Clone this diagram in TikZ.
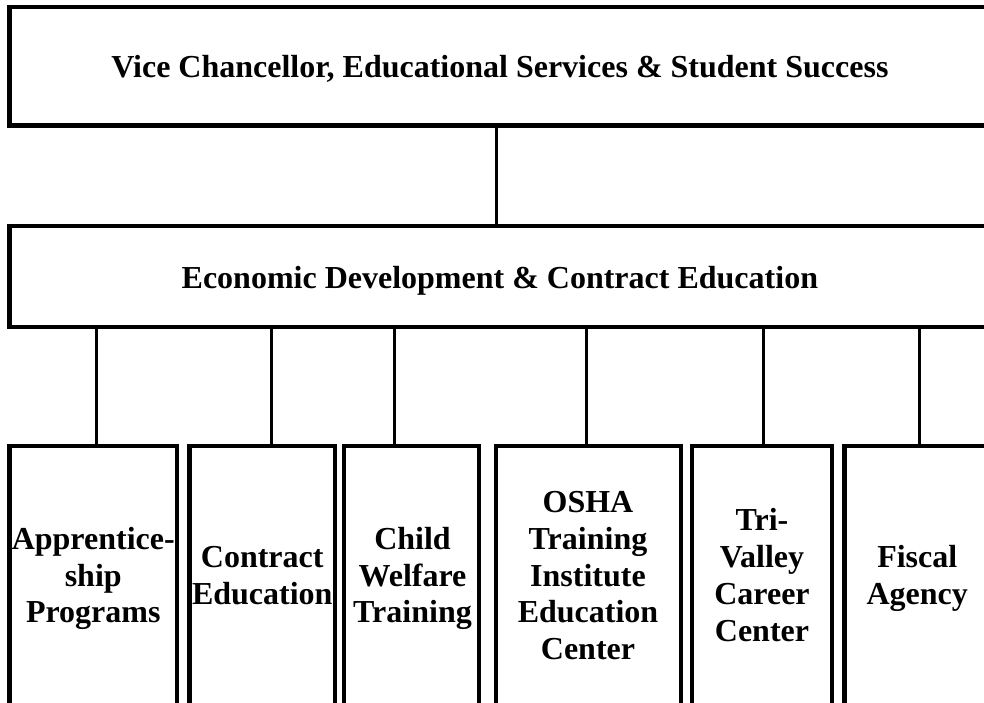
\documentclass[tikz,border=0pt]{standalone}
\usepackage{fontspec}
\setmainfont{Liberation Serif}
\begin{document}
\begin{tikzpicture}[x=1pt,y=-1pt,
  box/.style={draw, line width=4.5pt, inner sep=0pt, outer sep=0pt},
  conn/.style={draw, line width=3pt},
  lbl/.style={inner sep=0pt, font=\fontsize{32}{36.8}\selectfont\bfseries},
  mlbl/.style={lbl, text width=200pt, align=center}]
\clip (0,0) rectangle (984,702);
% top boxes
\node[box, minimum width=980.3pt, minimum height=118.5pt] (vc) at (499.85,66.25) {};
\node[box, minimum width=980.3pt, minimum height=101pt] (ed) at (499.85,276.5) {};
% bottom boxes
\node[box, minimum width=167.5pt, minimum height=274pt] (b1) at (93.25,583) {};
\node[box, minimum width=145.5pt, minimum height=274pt] (b2) at (262.25,583) {};
\node[box, minimum width=135pt, minimum height=274pt] (b3) at (411.5,583) {};
\node[box, minimum width=185pt, minimum height=274pt] (b4) at (588.5,583) {};
\node[box, minimum width=140pt, minimum height=274pt] (b5) at (762,583) {};
\node[box, minimum width=145.5pt, minimum height=274pt] (b6) at (917.25,583) {};
% connectors
\draw[conn] ([xshift=-3.85pt]ed.north) -- ([xshift=-3.85pt]ed.north |- vc.south);
\draw[conn] ([xshift=3.4pt]b1.north) -- ([xshift=3.4pt]b1.north |- ed.south);
\draw[conn] ([xshift=8.75pt]b2.north) -- ([xshift=8.75pt]b2.north |- ed.south);
\draw[conn] ([xshift=-17pt]b3.north) -- ([xshift=-17pt]b3.north |- ed.south);
\draw[conn] ([xshift=-1.8pt]b4.north) -- ([xshift=-1.8pt]b4.north |- ed.south);
\draw[conn] ([xshift=1.3pt]b5.north) -- ([xshift=1.3pt]b5.north |- ed.south);
\draw[conn] ([xshift=2.25pt]b6.north) -- ([xshift=2.25pt]b6.north |- ed.south);
% texts
\node[lbl, anchor=base] (vct) at (499.85,77) {Vice Chancellor, Educational Services \& Student Success};
\node[lbl, anchor=base] (edt) at (499.85,288) {Economic Development \& Contract Education};
\node[mlbl, anchor=base] (t1) at (93.25,549.2) {Apprentice-\\ship\\Programs};
\node[mlbl, anchor=base] (t2) at (262.25,567.6) {Contract\\Education};
\node[mlbl, anchor=base] (t3) at (412.5,549.2) {Child\\Welfare\\Training};
\node[mlbl, anchor=base] (t4) at (588,512.4) {OSHA\\Training\\Institute\\Education\\Center};
\node[mlbl, anchor=base] (t5) at (762,530.8) {Tri-\\Valley\\Career\\Center};
\node[mlbl, anchor=base] (t6) at (917.25,567.6) {Fiscal\\Agency};
\end{tikzpicture}
\end{document}
